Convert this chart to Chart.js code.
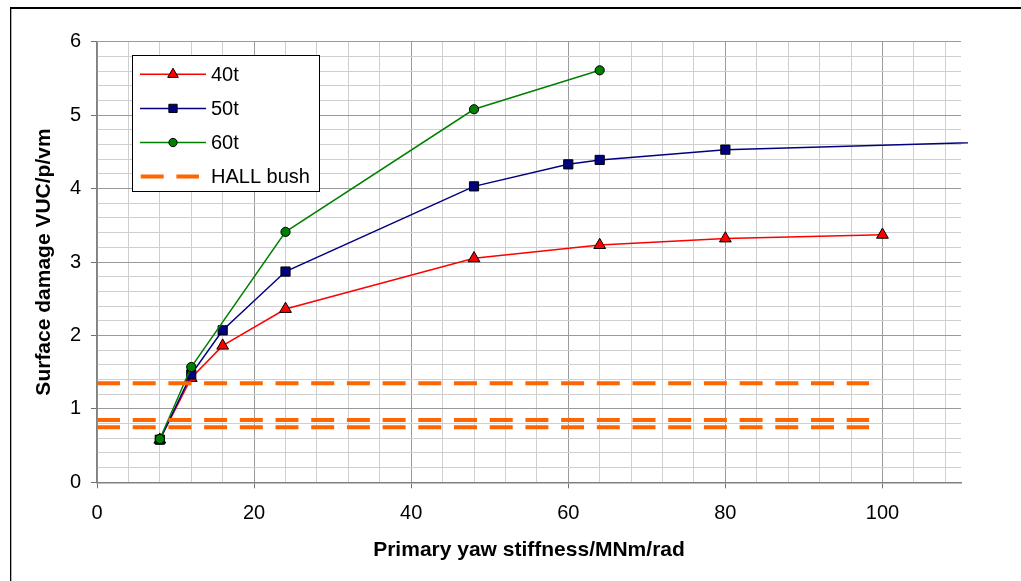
<!DOCTYPE html>
<html><head><meta charset="utf-8">
<script src="https://cdn.jsdelivr.net/npm/chart.js@4/dist/chart.umd.min.js"></script>
<style>html,body{margin:0;padding:0;background:#fff;} #wrap{position:relative;width:1021px;height:581px;}</style>
</head><body><div id="wrap"><canvas id="c"></canvas></div>
<script>
// ---- data ----
const x40 = [8, 12, 16, 24, 48, 64, 80, 100];
const y40 = [0.58, 1.42, 1.86, 2.36, 3.05, 3.23, 3.32, 3.37];
const x50 = [8, 12, 16, 24, 48, 60, 64, 80, 120];
const y50 = [0.58, 1.47, 2.07, 2.87, 4.03, 4.33, 4.39, 4.53, 4.65];
const x60 = [8, 12, 24, 48, 64];
const y60 = [0.59, 1.57, 3.41, 5.08, 5.61];
const hallLevels = [1.35, 0.85, 0.75];
const hallRange = [0, 98.3];
const seriesLabels = ['40t', '50t', '60t', 'HALL bush'];
const xTickLabels = ['0', '20', '40', '60', '80', '100'];
const yTickLabels = ['0', '1', '2', '3', '4', '5', '6'];
const xTitle = 'Primary yaw stiffness/MNm/rad';
const yTitle = 'Surface damage VUC/p/vm';

const FONT = '"Liberation Sans", Arial, sans-serif';
const pts = (xs, ys) => xs.map((x, i) => ({x: x, y: ys[i]}));

const datasets = [
  {label: seriesLabels[0], data: pts(x40, y40), borderColor: '#FF0000', backgroundColor: '#FF0000',
   pointBackgroundColor: '#FF0000', pointBorderColor: '#000', pointBorderWidth: 1,
   pointStyle: 'triangle', pointRadius: 6.8, borderWidth: 1.5, order: 3},
  {label: seriesLabels[1], data: pts(x50, y50), borderColor: '#000080', backgroundColor: '#000080',
   pointBackgroundColor: '#000080', pointBorderColor: '#000', pointBorderWidth: 1,
   pointStyle: 'rect', pointRadius: 6.5, borderWidth: 1.5, order: 2,
   clip: {left: 0, top: 0, bottom: 0, right: 7}},
  {label: seriesLabels[2], data: pts(x60, y60), borderColor: '#008000', backgroundColor: '#008000',
   pointBackgroundColor: '#008000', pointBorderColor: '#000', pointBorderWidth: 1,
   pointStyle: 'circle', pointRadius: 4.6, borderWidth: 1.5, order: 1}
];
hallLevels.forEach(v => {
  datasets.push({label: seriesLabels[3], data: [{x: hallRange[0], y: v}, {x: hallRange[1], y: v}],
    borderColor: '#FF6600', borderWidth: 4, borderDash: [23, 12.7], borderCapStyle: 'butt',
    pointRadius: 0, order: 0});
});

function drawMarker(ctx, style, r, x, y) {
  ctx.beginPath();
  if (style === 'triangle') {
    let rad = 0;
    ctx.moveTo(x + Math.sin(rad) * r, y - Math.cos(rad) * r);
    rad += 2 * Math.PI / 3; ctx.lineTo(x + Math.sin(rad) * r, y - Math.cos(rad) * r);
    rad += 2 * Math.PI / 3; ctx.lineTo(x + Math.sin(rad) * r, y - Math.cos(rad) * r);
    ctx.closePath();
  } else if (style === 'rect') {
    const s = Math.SQRT1_2 * r; ctx.rect(x - s, y - s, 2 * s, 2 * s);
  } else {
    ctx.arc(x, y, r, 0, Math.PI * 2);
  }
  ctx.fill(); ctx.stroke();
}

const boxLegend = {
  id: 'boxLegend',
  afterDatasetsDraw(chart) {
    const ctx = chart.ctx;
    ctx.save();
    const bx = 132.5, by = 55.5, bw = 187, bh = 136;
    ctx.fillStyle = '#fff'; ctx.fillRect(bx, by, bw, bh);
    ctx.strokeStyle = '#000'; ctx.lineWidth = 1; ctx.strokeRect(bx, by, bw, bh);
    const seen = new Set(); let row = 0;
    chart.data.datasets.forEach(ds => {
      if (seen.has(ds.label)) return; seen.add(ds.label);
      const cy = 74.3 + row * 34.1; row++;
      ctx.save();
      ctx.strokeStyle = ds.borderColor; ctx.lineWidth = ds.borderWidth;
      ctx.beginPath();
      if (ds.borderDash) {
        ctx.setLineDash(ds.borderDash); ctx.lineCap = 'butt';
        ctx.moveTo(140.7, cy); ctx.lineTo(199, cy); ctx.stroke();
      } else {
        ctx.moveTo(140, cy); ctx.lineTo(206, cy); ctx.stroke();
        ctx.fillStyle = ds.pointBackgroundColor; ctx.strokeStyle = '#000'; ctx.lineWidth = 1;
        drawMarker(ctx, ds.pointStyle, ds.pointRadius * 0.9, 173, cy);
      }
      ctx.restore();
      ctx.fillStyle = '#000'; ctx.font = '20px ' + FONT; ctx.textBaseline = 'middle'; ctx.textAlign = 'left';
      ctx.fillText(ds.label, 211, cy + 1);
    });
    ctx.restore();
  },
  afterDraw(chart) {
    const ctx = chart.ctx;
    ctx.save(); ctx.fillStyle = '#000';
    ctx.fillRect(10, 7, 1011, 2);
    ctx.fillRect(10, 7, 1.3, 574);
    ctx.restore();
  }
};

const isMajorX = v => xTickLabels.includes(String(v));
const isMajorY = v => Math.abs(v - Math.round(v)) < 1e-6;

new Chart(document.getElementById('c'), {
  type: 'line',
  data: {datasets: datasets},
  plugins: [boxLegend],
  options: {
    responsive: true, maintainAspectRatio: false, animation: false, events: [],
    layout: {padding: {top: 41.7, right: 60, left: 0, bottom: 0}},
    plugins: {legend: {display: false}, tooltip: {enabled: false}},
    scales: {
      x: {
        type: 'linear', min: 0, max: 110,
        afterFit: s => { s.height = 98.7; },
        ticks: {stepSize: 4, includeBounds: false, autoSkip: false, maxRotation: 0, padding: 13,
          color: '#000', font: {family: FONT, size: 20},
          callback: v => (isMajorX(v) ? String(v) : '')},
        grid: {
          color: c => (c.tick && isMajorX(c.tick.value) ? '#9a9a9a' : '#cfcfcf'),
          tickColor: c => (c.tick && isMajorX(c.tick.value) ? '#707070' : 'rgba(0,0,0,0)'),
          tickLength: 6, lineWidth: 1
        },
        border: {color: '#808080', width: 1.5},
        title: {display: true, text: xTitle, color: '#000',
          font: {family: FONT, size: 21, weight: 'bold'}, padding: {top: 0, bottom: 18}}
      },
      y: {
        type: 'linear', min: 0, max: 6,
        afterFit: s => { s.width = 97; },
        ticks: {stepSize: 0.2, autoSkip: false, padding: 10, color: '#000',
          font: {family: FONT, size: 20},
          callback: v => { const r = Math.round(v); return isMajorY(v) && yTickLabels.includes(String(r)) ? String(r) : ''; }},
        grid: {
          color: c => (c.tick && isMajorY(c.tick.value) ? '#9a9a9a' : '#cfcfcf'),
          tickColor: c => (c.tick && isMajorY(c.tick.value) ? '#707070' : 'rgba(0,0,0,0)'),
          tickLength: 6, lineWidth: 1
        },
        border: {color: '#808080', width: 1.5},
        title: {display: true, text: yTitle, color: '#000',
          font: {family: FONT, size: 21, weight: 'bold'}, padding: {top: 32, bottom: 0}}
      }
    }
  }
});
</script>
</body></html>
